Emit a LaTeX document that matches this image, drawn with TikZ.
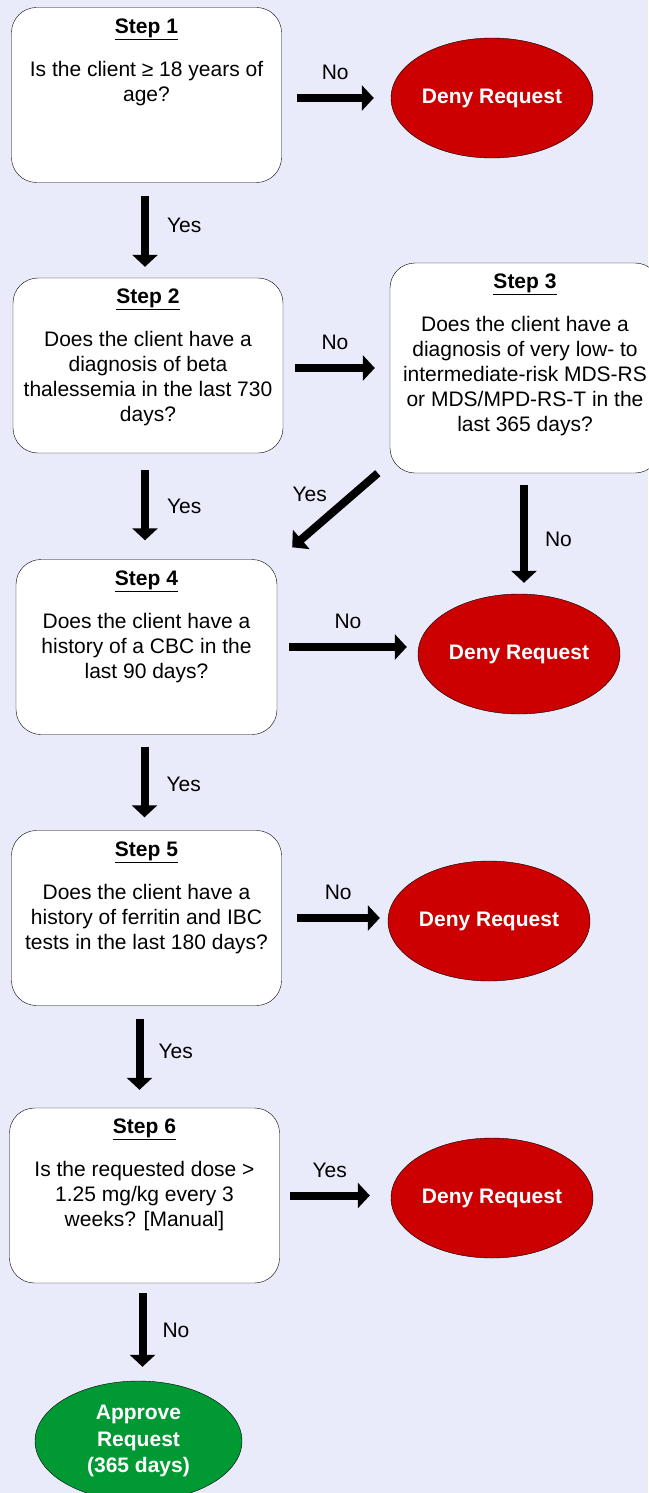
\documentclass[tikz,border=0pt]{standalone}
\usepackage{fontspec}
\setmainfont{Liberation Sans}
\usetikzlibrary{shapes.geometric,arrows.meta,positioning}
\definecolor{bglavender}{RGB}{233,235,251}
\definecolor{denyred}{RGB}{204,0,0}
\definecolor{approvegreen}{RGB}{0,153,51}
\begin{document}
\begin{tikzpicture}[x=1pt,y=-1pt,
		every node/.style={font=\fontsize{21}{25}\selectfont},
		stepbox/.style={draw,fill=white,rounded corners=25pt,minimum width=270pt,minimum height=175pt,inner sep=0pt},
		steptext/.style={align=center,inner sep=0pt},
		endbox/.style={ellipse,draw,text=white,align=center,inner sep=0pt,minimum width=202pt,minimum height=120pt,font=\fontsize{21}{26.5}\selectfont\bfseries},
		deny/.style={endbox,fill=denyred},
		approve/.style={endbox,fill=approvegreen,minimum width=207pt},
		bigarrow/.style={line width=8pt,-{Triangle[width=25pt,length=12pt]}},
		answer/.style={inner sep=0pt}]
		
		\fill[bglavender] (0,0) rectangle (648,1493);
		\useasboundingbox (0,0) rectangle (648,1493);
		
		\node[stepbox] (step1) at (146.5,95) {};
		\node[stepbox] (step2) at (148,365.5) {};
		\node[stepbox,minimum height=210pt] (step3) at (525,368) {};
		\node[stepbox,minimum width=261pt] (step4) at (146.5,647) {};
		\node[stepbox] (step5) at (146.5,918) {};
		\node[stepbox] (step6) at (144.5,1195.5) {};
		
		\node[steptext,below=11pt of step1.north] (step1text) {\textbf{\underline{Step 1}}\\[18pt]
			Is the client ≥ 18 years of\\ age?};
		\node[steptext,below=11pt of step2.north] (step2text) {\textbf{\underline{Step 2}}\\[18pt]
			Does the client have a\\ diagnosis of beta\\ thalessemia in the last 730\\ days?};
		\node[steptext,below=11pt of step3.north] (step3text) {\textbf{\underline{Step 3}}\\[18pt]
			Does the client have a\\ diagnosis of very low- to\\ intermediate-risk MDS-RS\\ or MDS/MPD-RS-T in the\\ last 365 days?};
		\node[steptext,below=11pt of step4.north] (step4text) {\textbf{\underline{Step 4}}\\[18pt]
			Does the client have a\\ history of a CBC in the\\ last 90 days?};
		\node[steptext,below=11pt of step5.north] (step5text) {\textbf{\underline{Step 5}}\\[18pt]
			Does the client have a\\ history of ferritin and IBC\\ tests in the last 180 days?};
		\node[steptext,below=11pt of step6.north] (step6text) {\textbf{\underline{Step 6}}\\[18pt]
			Is the requested dose >\\ 1.25 mg/kg every 3\\ weeks? [Manual]};
		
		\node[deny] (deny1) at (492,98) {Deny Request};
		\node[deny] (deny2) at (519,654) {Deny Request};
		\node[deny] (deny3) at (489,921) {Deny Request};
		\node[deny] (deny4) at (492,1198) {Deny Request};
		\node[approve] (approve) at (138.5,1441) {Approve\\ Request\\ (365 days)};
		
		\draw[bigarrow] ([xshift=15pt]step1.east |- deny1.west) to node[answer,above=14pt] {No} ([xshift=-17pt]deny1.west);
		\draw[bigarrow] ([xshift=-1.5pt,yshift=-13pt]step1.south) to node[answer,pos=0.42,right=18pt] {Yes} ([xshift=-1.5pt,yshift=11pt]step1.south |- step2.north);
		\draw[bigarrow] ([xshift=12pt]step2.east |- step3.west) to node[answer,above=14pt] {No} ([xshift=-15pt]step3.west);
		\draw[bigarrow] ([xshift=-3pt,yshift=-17pt]step2.south) to node[answer,pos=0.52,right=18pt] {Yes} ([xshift=-3pt,yshift=19pt]step2.south |- step4.north);
		\draw[bigarrow] ([xshift=-12pt]step3.south west) to node[answer,above left=6pt] {Yes} ([xshift=15pt,yshift=12pt]step4.north east);
		\draw[bigarrow] ([xshift=-1pt,yshift=-12pt]step3.south) to node[answer,pos=0.56,right=17pt] {No} ([xshift=-1pt,yshift=11pt]step3.south |- deny2.north);
		\draw[bigarrow] ([xshift=12pt]step4.east) to node[answer,above=14pt] {No} ([xshift=-11pt]step4.east -| deny2.west);
		\draw[bigarrow] ([xshift=-2pt,yshift=-12pt]step4.south) to node[answer,pos=0.53,right=18pt] {Yes} ([xshift=-2pt,yshift=13pt]step4.south |- step5.north);
		\draw[bigarrow] ([xshift=15pt]step5.east) to node[answer,above=14pt] {No} ([xshift=-8pt]step5.east -| deny3.west);
		\draw[bigarrow] ([xshift=-7pt,yshift=-13pt]step5.south) to node[answer,pos=0.46,right=15pt] {Yes} ([xshift=-7pt,yshift=18pt]step5.south |- step6.north);
		\draw[bigarrow] ([xshift=10pt]step6.east) to node[answer,above=14pt] {Yes} ([xshift=-21pt]step6.east -| deny4.west);
		\draw[bigarrow] ([xshift=-2pt,yshift=-10pt]step6.south) to node[answer,pos=0.5,right=16pt] {No} ([xshift=-2pt,yshift=14pt]step6.south |- approve.north);
		\end{tikzpicture}
\end{document}
